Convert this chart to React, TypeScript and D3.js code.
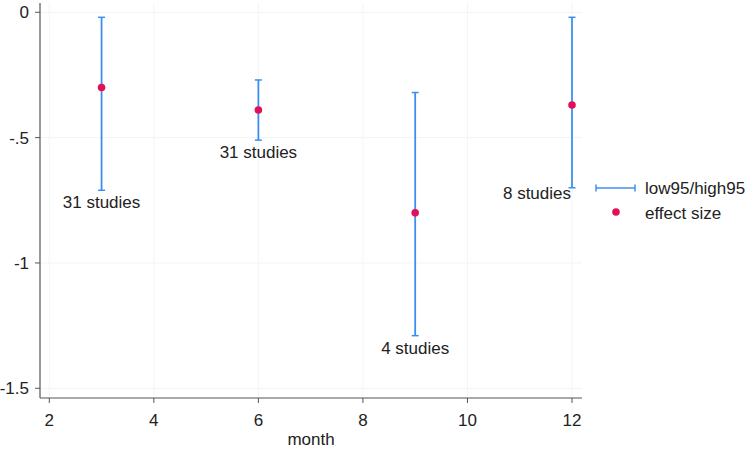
import React from "react";
import * as d3 from "d3";

const months = [3, 6, 9, 12];
const effect = [-0.30, -0.39, -0.80, -0.37];
const low95 = [-0.71, -0.51, -1.29, -0.70];
const high95 = [-0.02, -0.27, -0.32, -0.02];
const studyLabels = ["31 studies", "31 studies", "4 studies", "8 studies"];
const xTicks = [2, 4, 6, 8, 10, 12];
const yTicks = [0, -0.5, -1, -1.5];
const yTickLabels = ["0", "-.5", "-1", "-1.5"];

const W = 747, H = 449;
const BLUE = "#3d8fef";
const RED = "#e0105a";
const FONT = "Liberation Sans, Arial, sans-serif";
const FS = 17;

export default function App() {
  const x = d3.scaleLinear().domain([2, 12]).range([49.3, 572]);
  const y = d3.scaleLinear().domain([0, -1.5]).range([12.3, 388.3]);
  const left = 40, bottom = 398, right = 582, top = 3;
  return (
    <svg width={W} height={H} style={{ position: "absolute", left: 0, top: 0, background: "#fff" }}>
      <rect x={0} y={0} width={W} height={H} fill="#fff" />
      {yTicks.map((t) => (
        <line key={"gy" + t} x1={left} x2={right} y1={y(t)} y2={y(t)} stroke="#f3f3f3" strokeWidth={1} />
      ))}
      {xTicks.map((t) => (
        <line key={"gx" + t} x1={x(t)} x2={x(t)} y1={top} y2={bottom} stroke="#f5f5f5" strokeWidth={1} />
      ))}
      <line x1={left} x2={left} y1={top} y2={bottom} stroke="#555" strokeWidth={1.2} />
      <line x1={left} x2={right} y1={bottom} y2={bottom} stroke="#555" strokeWidth={1.2} />
      {yTicks.map((t, i) => (
        <g key={"ty" + t}>
          <line x1={left - 5} x2={left} y1={y(t)} y2={y(t)} stroke="#555" />
          <text x={left - 11} y={y(t)} dy="0.35em" textAnchor="end" fontFamily={FONT} fontSize={FS} fill="#222">
            {yTickLabels[i]}
          </text>
        </g>
      ))}
      {xTicks.map((t) => (
        <g key={"tx" + t}>
          <line x1={x(t)} x2={x(t)} y1={bottom} y2={bottom + 5} stroke="#555" />
          <text x={x(t)} y={426} textAnchor="middle" fontFamily={FONT} fontSize={FS} fill="#222">
            {t}
          </text>
        </g>
      ))}
      <text x={(left + right) / 2} y={445} textAnchor="middle" fontFamily={FONT} fontSize={FS} fill="#222">
        month
      </text>
      {months.map((m, i) => (
        <g key={"e" + m}>
          <line x1={x(m)} x2={x(m)} y1={y(high95[i])} y2={y(low95[i])} stroke={BLUE} strokeWidth={1.8} />
          <line x1={x(m) - 3.5} x2={x(m) + 3.5} y1={y(high95[i])} y2={y(high95[i])} stroke={BLUE} strokeWidth={1.5} />
          <line x1={x(m) - 3.5} x2={x(m) + 3.5} y1={y(low95[i])} y2={y(low95[i])} stroke={BLUE} strokeWidth={1.5} />
        </g>
      ))}
      {months.map((m, i) => (
        <circle key={"p" + m} cx={x(m)} cy={y(effect[i])} r={3.8} fill={RED} />
      ))}
      {months.map((m, i) => {
        const last = i === months.length - 1;
        return (
          <text
            key={"l" + m}
            x={last ? x(m) - 1 : x(m)}
            y={last ? y(low95[i]) + 11 : y(low95[i]) + 18}
            textAnchor={last ? "end" : "middle"}
            fontFamily={FONT}
            fontSize={FS}
            fill="#222"
          >
            {studyLabels[i]}
          </text>
        );
      })}
      <g>
        <line x1={596} x2={635} y1={188} y2={188} stroke={BLUE} strokeWidth={1.5} />
        <line x1={596} x2={596} y1={184.5} y2={191.5} stroke={BLUE} strokeWidth={1.5} />
        <line x1={635} x2={635} y1={184.5} y2={191.5} stroke={BLUE} strokeWidth={1.5} />
        <text x={645} y={188} dy="0.35em" fontFamily={FONT} fontSize={FS} fill="#222">low95/high95</text>
        <circle cx={616} cy={212} r={3.8} fill={RED} />
        <text x={645} y={213} dy="0.35em" fontFamily={FONT} fontSize={FS} fill="#222">effect size</text>
      </g>
    </svg>
  );
}
